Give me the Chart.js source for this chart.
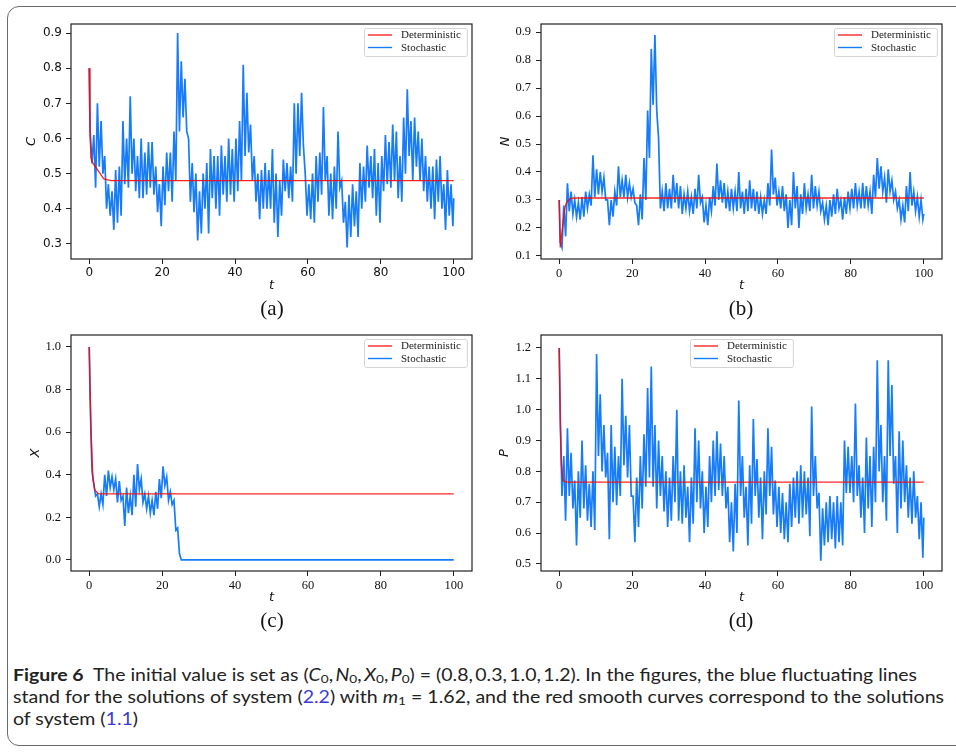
<!DOCTYPE html>
<html>
<head>
<meta charset="utf-8">
<script src="https://cdn.jsdelivr.net/npm/chart.js@4.4.1/dist/chart.umd.min.js"></script>
<style>
html, body { margin: 0; padding: 0; background: #fff; width: 956px; height: 752px; overflow: hidden; position: relative; }
#frame { position: absolute; left: 7px; top: 6px; width: 1000px; height: 740px; border: 1.5px solid #6b6b6b; border-radius: 12px; box-sizing: border-box; }
canvas { position: absolute; }
.sub { position: absolute; font-family: 'Liberation Serif', serif; font-size: 21px; color: #111; transform: translate(-50%, -50%); }
.cap { position: absolute; left: 13px; font-family: Lato, sans-serif; font-size: 17px; line-height: 20px; white-space: nowrap; transform-origin: 0 50%; color: #222; }
.cap sub { font-size: 70%; vertical-align: -0.2em; line-height: 0; }
.lk { color: #3b3bd9; }
</style>
</head>
<body>
<div id="frame"></div>
<canvas id="pa" width="478" height="293" style="left:0;top:0"></canvas>
<canvas id="pb" width="478" height="293" style="left:478px;top:0"></canvas>
<canvas id="pc" width="478" height="295" style="left:0;top:310px"></canvas>
<canvas id="pd" width="478" height="295" style="left:478px;top:310px"></canvas>
<div class="sub" style="left:272px;top:308px">(a)</div>
<div class="sub" style="left:741px;top:308px">(b)</div>
<div class="sub" style="left:272px;top:620px">(c)</div>
<div class="sub" style="left:741px;top:620px">(d)</div>
<div class="cap" id="cap1" style="top:665px"><b>Figure 6</b>&nbsp; The initial value is set as (<i>C</i><sub>0</sub>,&thinsp;<i>N</i><sub>0</sub>,&thinsp;<i>X</i><sub>0</sub>,&thinsp;<i>P</i><sub>0</sub>) = (0.8,&thinsp;0.3,&thinsp;1.0,&thinsp;1.2). In the figures, the blue fluctuating lines</div>
<div class="cap" id="cap2" style="top:687px">stand for the solutions of system (<span class="lk">2.2</span>) with <i>m</i><sub>1</sub> = 1.62, and the red smooth curves correspond to the solutions</div>
<div class="cap" id="cap3" style="top:709px">of system (<span class="lk">1.1</span>)</div>
<script>
// time axis ticks
const xTicks = [0, 20, 40, 60, 80, 100];

// (a) C : stochastic band, local max / min inside each unit of t
const cStart = 0.80, cEnd = 0.43;
const cHi = [0.62,0.61,0.70,0.65,0.55,0.47,0.45,0.51,0.52,0.65, 0.60,0.72,0.60,0.55,0.60,0.56,0.59,0.59,0.52,0.47,
  0.52,0.56,0.56,0.62,0.90,0.82,0.77,0.60,0.53,0.50, 0.45,0.50,0.53,0.57,0.55,0.55,0.58,0.55,0.60,0.57,
  0.60,0.65,0.81,0.73,0.64,0.55,0.50,0.51,0.53,0.51, 0.57,0.50,0.48,0.54,0.53,0.52,0.70,0.70,0.73,0.50,
  0.47,0.50,0.55,0.56,0.69,0.55,0.50,0.52,0.62,0.48, 0.42,0.44,0.47,0.45,0.53,0.52,0.58,0.55,0.57,0.53,
  0.55,0.61,0.59,0.64,0.62,0.55,0.66,0.74,0.65,0.66, 0.62,0.60,0.55,0.52,0.52,0.54,0.55,0.47,0.51,0.47];
const cLo = [0.53,0.46,0.52,0.50,0.40,0.38,0.34,0.36,0.38,0.47, 0.46,0.50,0.45,0.43,0.43,0.44,0.46,0.44,0.39,0.35,
  0.41,0.45,0.42,0.48,0.62,0.66,0.62,0.42,0.39,0.31, 0.33,0.40,0.33,0.43,0.40,0.38,0.44,0.42,0.44,0.42,
  0.45,0.48,0.55,0.56,0.48,0.42,0.37,0.40,0.40,0.40, 0.36,0.32,0.38,0.45,0.43,0.42,0.50,0.55,0.58,0.38,
  0.37,0.36,0.42,0.44,0.48,0.38,0.37,0.40,0.46,0.36, 0.29,0.32,0.35,0.32,0.40,0.42,0.46,0.43,0.38,0.36,
  0.45,0.47,0.46,0.48,0.43,0.42,0.50,0.55,0.48,0.52, 0.48,0.45,0.42,0.40,0.37,0.42,0.40,0.34,0.38,0.35];
const detCt = [0, 0.2, 0.5, 1, 2, 3, 4, 6, 100];
const detC = [0.80, 0.62, 0.545, 0.53, 0.515, 0.50, 0.485, 0.48, 0.48];
const cYTicks = [0.3, 0.4, 0.5, 0.6, 0.7, 0.8, 0.9];

// (b) N
const nStart = 0.30, nEnd = 0.25;
const nHi = [0.15,0.28,0.36,0.33,0.30,0.29,0.31,0.33,0.32,0.46, 0.41,0.40,0.38,0.30,0.30,0.33,0.42,0.37,0.39,0.36,
  0.34,0.28,0.32,0.45,0.62,0.84,0.89,0.52,0.33,0.36, 0.34,0.39,0.36,0.35,0.32,0.33,0.31,0.34,0.39,0.31,
  0.28,0.31,0.35,0.43,0.37,0.36,0.33,0.34,0.33,0.40, 0.33,0.34,0.37,0.34,0.33,0.31,0.30,0.36,0.48,0.38,
  0.33,0.35,0.32,0.30,0.40,0.35,0.32,0.36,0.32,0.39, 0.35,0.33,0.29,0.28,0.30,0.32,0.34,0.30,0.31,0.33,
  0.34,0.36,0.33,0.36,0.35,0.33,0.39,0.45,0.42,0.38, 0.41,0.37,0.33,0.30,0.28,0.35,0.40,0.33,0.31,0.30];
const nLo = [0.13,0.17,0.26,0.25,0.24,0.23,0.24,0.27,0.28,0.31, 0.32,0.33,0.30,0.21,0.24,0.28,0.31,0.31,0.31,0.31,
  0.29,0.21,0.23,0.30,0.45,0.64,0.62,0.27,0.26,0.27, 0.27,0.29,0.27,0.25,0.27,0.26,0.25,0.27,0.29,0.22,
  0.21,0.26,0.28,0.30,0.29,0.27,0.26,0.27,0.26,0.27, 0.25,0.26,0.27,0.26,0.25,0.25,0.25,0.28,0.32,0.28,
  0.27,0.26,0.20,0.21,0.27,0.20,0.25,0.27,0.26,0.27, 0.28,0.26,0.23,0.21,0.24,0.25,0.27,0.23,0.25,0.27,
  0.27,0.28,0.27,0.27,0.28,0.25,0.31,0.34,0.33,0.29, 0.33,0.30,0.27,0.23,0.22,0.26,0.28,0.26,0.24,0.23];
const detNt = [0, 0.3, 0.8, 1.5, 2, 3, 4, 100];
const detN = [0.30, 0.13, 0.19, 0.27, 0.29, 0.305, 0.307, 0.307];
const nYTicks = [0.1, 0.2, 0.3, 0.4, 0.5, 0.6, 0.7, 0.8, 0.9];

// (c) X
const xStart = 1.0, xEnd = 0.0;
const xHi = [0.75,0.36,0.31,0.31,0.40,0.42,0.39,0.38,0.37,0.30, 0.34,0.30,0.40,0.45,0.38,0.31,0.30,0.28,0.32,0.38,
  0.44,0.39,0.32,0.28,0.15,0,0,0,0,0, 0,0,0,0,0,0,0,0,0,0, 0,0,0,0,0,0,0,0,0,0, 0,0,0,0,0,0,0,0,0,0,
  0,0,0,0,0,0,0,0,0,0, 0,0,0,0,0,0,0,0,0,0, 0,0,0,0,0,0,0,0,0,0, 0,0,0,0,0,0,0,0,0,0];
const xLo = [0.42,0.30,0.25,0.26,0.30,0.34,0.33,0.27,0.28,0.16, 0.22,0.21,0.25,0.33,0.27,0.24,0.22,0.21,0.24,0.29,
  0.35,0.28,0.26,0.14,0.03,0,0,0,0,0, 0,0,0,0,0,0,0,0,0,0, 0,0,0,0,0,0,0,0,0,0, 0,0,0,0,0,0,0,0,0,0,
  0,0,0,0,0,0,0,0,0,0, 0,0,0,0,0,0,0,0,0,0, 0,0,0,0,0,0,0,0,0,0, 0,0,0,0,0,0,0,0,0,0];
const detXt = [0, 0.5, 1, 1.5, 2.5, 100];
const detX = [1.0, 0.6, 0.38, 0.33, 0.31, 0.31];
const xYTicks = [0.0, 0.2, 0.4, 0.6, 0.8, 1.0];

// (d) P
const pStart = 1.20, pEnd = 0.65;
const pHi = [1.00,0.85,0.94,0.86,0.77,0.80,0.90,0.82,0.76,0.80, 1.18,1.05,0.95,0.86,0.95,0.88,0.85,1.10,0.98,0.95,
  0.72,0.78,0.85,0.92,1.07,1.14,0.95,0.90,0.85,0.80, 0.78,0.85,1.00,0.80,0.82,0.75,0.78,0.94,0.90,0.80,
  0.75,0.85,0.90,0.93,0.89,0.85,0.75,0.70,0.76,1.03, 0.85,0.75,0.82,0.97,0.84,0.78,0.80,0.94,0.88,0.77,
  0.75,0.73,0.70,0.76,0.78,0.80,0.82,0.80,0.78,1.01, 0.85,0.73,0.68,0.70,0.72,0.70,0.72,0.70,0.90,0.88,
  0.85,1.02,0.82,0.78,0.91,0.85,0.88,1.16,0.95,0.85, 1.16,1.08,0.85,0.93,0.90,0.82,0.78,0.80,0.72,0.70];
const pLo = [0.72,0.64,0.72,0.68,0.56,0.65,0.68,0.64,0.62,0.61, 0.85,0.80,0.78,0.58,0.70,0.69,0.72,0.82,0.78,0.72,
  0.57,0.62,0.68,0.75,0.78,0.75,0.68,0.72,0.67,0.62, 0.64,0.70,0.64,0.63,0.65,0.57,0.63,0.70,0.68,0.60,
  0.62,0.70,0.72,0.74,0.72,0.68,0.57,0.54,0.60,0.72, 0.65,0.56,0.63,0.72,0.65,0.58,0.66,0.72,0.66,0.62,
  0.60,0.58,0.57,0.62,0.65,0.63,0.65,0.66,0.59,0.72, 0.68,0.51,0.56,0.57,0.58,0.55,0.57,0.56,0.73,0.73,
  0.70,0.72,0.65,0.60,0.68,0.62,0.70,0.80,0.70,0.64, 0.85,0.76,0.60,0.68,0.70,0.65,0.63,0.65,0.58,0.52];
const detPt = [0, 0.3, 0.6, 1, 2, 100];
const detP = [1.20, 0.95, 0.82, 0.77, 0.765, 0.765];
const pYTicks = [0.5, 0.6, 0.7, 0.8, 0.9, 1.0, 1.1, 1.2];

const BLUE = 'rgb(22,124,250)';
const RED = 'rgba(255,0,0,0.85)';

function band(start, hi, lo, end) {
  const pts = [{x: 0, y: start}];
  for (let k = 0; k < hi.length; k++) {
    pts.push({x: k + 0.25, y: hi[k]});
    pts.push({x: k + 0.75, y: lo[k]});
  }
  pts.push({x: 100, y: end});
  return pts;
}
function pairs(t, v) {
  return t.map((x, i) => ({x: x, y: v[i]}));
}

const framePlugin = {
  id: 'frame',
  afterDatasetsDraw(chart) {
    const a = chart.chartArea, ctx = chart.ctx;
    ctx.save();
    ctx.strokeStyle = '#222';
    ctx.lineWidth = 1.2;
    ctx.strokeRect(a.left, a.top, a.right - a.left, a.bottom - a.top);
    ctx.restore();
  }
};

const legendPlugin = {
  id: 'boxLegend',
  afterDraw(chart, args, o) {
    const ctx = chart.ctx, a = chart.chartArea;
    ctx.save();
    ctx.font = '11px "Liberation Serif"';
    const items = chart.data.datasets;
    const tw = Math.max(...items.map(d => ctx.measureText(d.label).width));
    const w = 37 + tw + 6, h = 28;
    const x0 = o.align === 'center' ? Math.round((a.left + a.right) / 2 - w / 2) : Math.round(a.right - 5 - w);
    const y0 = Math.round(a.top + 4);
    ctx.fillStyle = 'rgba(255,255,255,0.85)';
    ctx.strokeStyle = '#d4d4d4';
    ctx.lineWidth = 1;
    ctx.beginPath();
    ctx.roundRect(x0 + 0.5, y0 + 0.5, w, h, 2);
    ctx.fill();
    ctx.stroke();
    items.forEach((d, i) => {
      const y = y0 + 7 + i * 12.5;
      ctx.strokeStyle = d.borderColor;
      ctx.lineWidth = 1.4;
      ctx.beginPath();
      ctx.moveTo(x0 + 4, y);
      ctx.lineTo(x0 + 28, y);
      ctx.stroke();
      ctx.fillStyle = '#222';
      ctx.textBaseline = 'middle';
      ctx.fillText(d.label, x0 + 37, y + 0.5);
    });
    ctx.restore();
  }
};

function makePanel(id, o) {
  const tickFont = {family: o.tickFamily, size: o.tickSize};
  const axisTitleFont = {family: 'DejaVu Sans', style: 'italic', size: 13};
  new Chart(document.getElementById(id), {
    type: 'line',
    data: {
      datasets: [
        {label: 'Deterministic', data: o.det, borderColor: RED, borderWidth: 1.4, pointRadius: 0, tension: 0},
        {label: 'Stochastic', data: o.sto, borderColor: BLUE, borderWidth: 1.7, pointRadius: 0, tension: 0}
      ]
    },
    options: {
      responsive: false,
      animation: false,
      devicePixelRatio: 1,
      events: [],
      layout: {padding: {left: 0, top: o.top, right: o.right, bottom: 0}},
      plugins: {legend: {display: false}, tooltip: {enabled: false}, boxLegend: {align: o.legendAlign}},
      scales: {
        x: {
          type: 'linear', min: -5, max: 105,
          afterBuildTicks: s => { s.ticks = xTicks.map(v => ({value: v})); },
          afterFit: s => { s.height = o.xh; },
          ticks: {font: tickFont, color: '#111', padding: 2, autoSkip: false, maxRotation: 0, callback: v => String(v)},
          grid: {drawOnChartArea: false, drawTicks: true, tickLength: 5, tickColor: '#222'},
          border: {display: false},
          title: {display: true, text: 't', font: axisTitleFont, color: '#111', padding: {top: 0, bottom: 0}}
        },
        y: {
          type: 'linear', min: o.ymin, max: o.ymax,
          afterBuildTicks: s => { s.ticks = o.yTicks.map(v => ({value: v})); },
          afterFit: s => { s.width = o.yw; },
          ticks: {font: tickFont, color: '#111', padding: o.ypad, autoSkip: false, callback: v => v.toFixed(1)},
          grid: {drawOnChartArea: false, drawTicks: true, tickLength: 5, tickColor: '#222'},
          border: {display: false},
          title: {display: true, text: o.ylabel, font: axisTitleFont, color: '#111', padding: {top: o.ytitle - 7.8, bottom: 0}}
        }
      }
    },
    plugins: [framePlugin, legendPlugin]
  });
}

makePanel('pa', {
  det: pairs(detCt, detC), sto: band(cStart, cHi, cLo, cEnd), yTicks: cYTicks, ymin: 0.257, ymax: 0.926,
  ylabel: 'C', top: 24, right: 6, yw: 71, xh: 293 - 259, ypad: 4, ytitle: 32,
  tickFamily: 'DejaVu Sans', tickSize: 12, legendAlign: 'right'
});
makePanel('pb', {
  det: pairs(detNt, detN), sto: band(nStart, nHi, nLo, nEnd), yTicks: nYTicks, ymin: 0.089, ymax: 0.929,
  ylabel: 'N', top: 24, right: 14, yw: 63, xh: 293 - 259, ypad: 5, ytitle: 27.5,
  tickFamily: 'Liberation Serif', tickSize: 12.5, legendAlign: 'right'
});
makePanel('pc', {
  det: pairs(detXt, detX), sto: band(xStart, xHi, xLo, xEnd), yTicks: xYTicks, ymin: -0.052, ymax: 1.056,
  ylabel: 'X', top: 25, right: 6, yw: 71, xh: 295 - 261, ypad: 5, ytitle: 36,
  tickFamily: 'Liberation Serif', tickSize: 12.5, legendAlign: 'right'
});
makePanel('pd', {
  det: pairs(detPt, detP), sto: band(pStart, pHi, pLo, pEnd), yTicks: pYTicks, ymin: 0.477, ymax: 1.242,
  ylabel: 'P', top: 25, right: 14, yw: 63, xh: 295 - 261, ypad: 5, ytitle: 27,
  tickFamily: 'Liberation Serif', tickSize: 12.5, legendAlign: 'center'
});

// fit the caption lines to the widths of the original layout
function fit(el, target, k) {
  const w = el.getBoundingClientRect().width;
  const s = k || target / w;
  el.style.transform = 'scaleX(' + s + ')';
  return s;
}
fit(document.getElementById('cap1'), 904);
const s2 = fit(document.getElementById('cap2'), 931);
fit(document.getElementById('cap3'), 0, s2);
</script>
</body>
</html>
